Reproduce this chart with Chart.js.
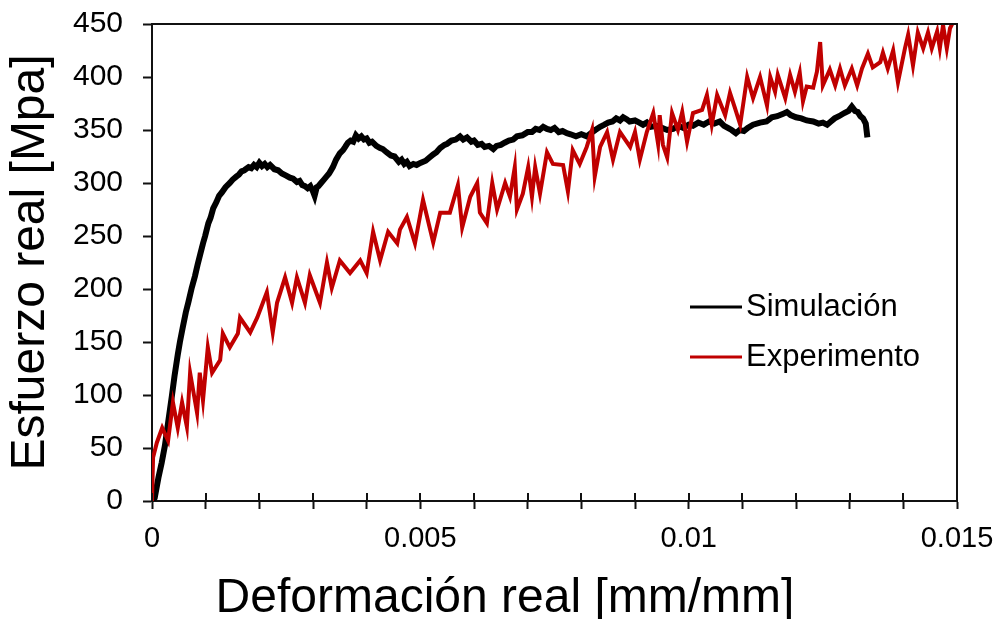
<!DOCTYPE html>
<html>
<head>
<meta charset="utf-8">
<script src="https://cdn.jsdelivr.net/npm/chart.js@4/dist/chart.umd.min.js"></script>
<style>
  html, body { margin: 0; padding: 0; background: #fff; }
  #wrap { width: 1002px; height: 619px; }
</style>
</head>
<body>
<div id="wrap"><canvas id="chart" width="1002" height="619"></canvas></div>
<script>
// Series labels
const seriesNames = ['Simulación', 'Experimento'];

// Simulación (black)
const simX = [0, 0.00005, 0.00012, 0.00018, 0.00024, 0.0003, 0.00037, 0.00042, 0.00048, 0.00052,
  0.00057, 0.00063, 0.00068, 0.00074, 0.0008, 0.00085, 0.0009, 0.00095, 0.00099, 0.00105,
  0.00109, 0.00114, 0.0012, 0.00125, 0.0013, 0.00137, 0.00145, 0.0015, 0.00157, 0.00162,
  0.00167, 0.00172, 0.0018, 0.00185, 0.0019, 0.00195, 0.002, 0.00205, 0.0021, 0.00215,
  0.0022, 0.00228, 0.00235, 0.00242, 0.0025, 0.00257, 0.00263, 0.0027, 0.00275, 0.0028,
  0.00285, 0.0029, 0.00295, 0.003, 0.00303, 0.00307, 0.0031, 0.00315, 0.0032, 0.00325,
  0.0033, 0.00337, 0.00343, 0.0035, 0.00356, 0.0036, 0.00365, 0.0037, 0.00375, 0.0038,
  0.00385, 0.0039, 0.00395, 0.004, 0.00405, 0.0041, 0.00418, 0.00425, 0.0043, 0.00437,
  0.00445, 0.00452, 0.0046, 0.00465, 0.0047, 0.00475, 0.0048, 0.00487, 0.00493, 0.005,
  0.0051, 0.00517, 0.00524, 0.0053, 0.00537, 0.00545, 0.0055, 0.00558, 0.00566, 0.00574,
  0.0058, 0.00587, 0.00595, 0.006, 0.00607, 0.00614, 0.0062, 0.00628, 0.00636, 0.00642,
  0.0065, 0.00657, 0.00665, 0.00673, 0.0068, 0.0069, 0.007, 0.00708, 0.00715, 0.00722,
  0.00729, 0.00736, 0.00743, 0.0075, 0.00758, 0.00765, 0.00773, 0.0078, 0.0079, 0.008,
  0.0081, 0.00818, 0.00826, 0.00835, 0.00843, 0.0085, 0.00858, 0.00865, 0.00872, 0.00878,
  0.00885, 0.0089, 0.009, 0.00908, 0.00915, 0.00922, 0.0093, 0.0094, 0.0095, 0.0096,
  0.00971, 0.0098, 0.0099, 0.01, 0.01008, 0.01018, 0.01028, 0.01038, 0.01048, 0.01058,
  0.01066, 0.01073, 0.0108, 0.01088, 0.01095, 0.01103, 0.0111, 0.0112, 0.01133, 0.01145,
  0.01155, 0.01165, 0.01175, 0.01183, 0.0119, 0.012, 0.0121, 0.0122, 0.01232, 0.01242,
  0.0125, 0.01258, 0.01265, 0.01272, 0.0128, 0.0129, 0.01298, 0.01304, 0.0131, 0.01315,
  0.0132, 0.01325, 0.0133, 0.01333];
const simY = [0, 3, 22, 36, 52, 74, 99, 118, 138, 150,
  163, 178, 188, 201, 212, 223, 233, 243, 250, 262,
  267, 276, 282, 288, 291, 296, 300, 303, 306, 308,
  311, 312, 315, 314, 317, 315, 319, 316, 318, 315,
  317, 313, 312, 309, 307, 305, 304, 301, 302, 298,
  297, 295, 297, 292, 288, 296, 297, 300, 303, 306,
  309, 315, 322, 328, 331, 334, 338, 340, 339, 345,
  342, 344, 341, 342, 338, 339, 335, 333, 332, 329,
  326, 325, 320, 322, 318, 320, 316, 318, 317, 319,
  321, 324, 327, 329, 333, 336, 337, 340, 341, 344,
  341, 343, 339, 340, 336, 337, 334, 335, 332, 335,
  336, 338, 340, 341, 344, 345, 348, 348, 351, 350,
  353, 351, 350, 352, 348, 349, 347, 346, 344, 346,
  344, 347, 350, 353, 355, 357, 358, 361, 359, 362,
  360, 358, 359, 357, 355, 357, 353, 354, 352, 350,
  351, 354, 352, 355, 354, 357, 355, 358, 356, 358,
  354, 352, 350, 347, 350, 349, 352, 355, 357, 358,
  362, 363, 365, 367, 364, 362, 361, 359, 358, 356,
  357, 355, 358, 361, 363, 366, 368, 372, 368, 367,
  363, 361, 356, 343];

// Experimento (red)
const expX = [0, 0.00002, 0.00009, 0.00019, 0.0003, 0.00039, 0.00048, 0.00056, 0.00065, 0.00071,
  0.00084, 0.00089, 0.00095, 0.00104, 0.00112, 0.00127, 0.00132, 0.00145, 0.0016, 0.00164,
  0.00183, 0.00196, 0.00214, 0.00225, 0.00233, 0.00248, 0.00261, 0.0027, 0.00285, 0.00294,
  0.00313, 0.00326, 0.00335, 0.0035, 0.00369, 0.00388, 0.004, 0.00412, 0.00425, 0.0044,
  0.00457, 0.00462, 0.00475, 0.0049, 0.00505, 0.00524, 0.00537, 0.00555, 0.0057, 0.00578,
  0.00593, 0.00606, 0.00611, 0.00624, 0.00634, 0.00643, 0.00658, 0.00667, 0.00676, 0.0068,
  0.00691, 0.00701, 0.00708, 0.00714, 0.00723, 0.00736, 0.00747, 0.00766, 0.00775, 0.00784,
  0.00797, 0.0081, 0.0082, 0.00825, 0.00835, 0.00848, 0.00859, 0.00872, 0.00891, 0.009,
  0.00909, 0.00922, 0.00934, 0.00943, 0.00946, 0.00952, 0.0096, 0.00969, 0.0098, 0.00988,
  0.00997, 0.01008, 0.01025, 0.01034, 0.01043, 0.01053, 0.01068, 0.01077, 0.01086, 0.01096,
  0.01109, 0.0112, 0.01133, 0.01146, 0.01152, 0.01161, 0.01166, 0.0118, 0.01189, 0.01198,
  0.01207, 0.01213, 0.0122, 0.01232, 0.01239, 0.01245, 0.0125, 0.01263, 0.01273, 0.01282,
  0.01291, 0.01304, 0.01314, 0.01323, 0.01334, 0.01343, 0.01357, 0.01362, 0.01371, 0.01381,
  0.0139, 0.01403, 0.01409, 0.01418, 0.01427, 0.01437, 0.01446, 0.01453, 0.01463, 0.01468,
  0.01474, 0.01481, 0.01487, 0.01493];
const expY = [0, 41, 55, 69, 57, 93, 69, 93, 70, 121,
  83, 121, 95, 145, 121, 133, 158, 145, 158, 173,
  159, 173, 197, 159, 187, 211, 187, 211, 187, 213,
  187, 225, 201, 227, 215, 227, 215, 254, 227, 254,
  243, 256, 268, 243, 284, 244, 272, 272, 298, 258,
  287, 300, 272, 262, 300, 275, 300, 287, 315, 275,
  290, 315, 287, 315, 290, 329, 318, 317, 292, 331,
  318, 334, 350, 306, 334, 348, 322, 348, 334, 348,
  322, 348, 366, 337, 364, 336, 324, 366, 350, 367,
  339, 366, 369, 383, 355, 383, 364, 385, 371, 355,
  400, 380, 400, 373, 400, 386, 402, 380, 402, 386,
  404, 377, 391, 390, 405, 433, 392, 407, 392, 408,
  392, 408, 392, 408, 422, 409, 414, 423, 408, 425,
  395, 427, 440, 411, 442, 427, 442, 427, 443, 427,
  449, 427, 446, 452];

// Tick labels
const xTickLabels = ['0', '0.005', '0.01', '0.015'];
const xTickValues = [0, 0.005, 0.01, 0.015];
const yTickLabels = ['0', '50', '100', '150', '200', '250', '300', '350', '400', '450'];

const axisTitles = { x: 'Deformación real [mm/mm]', y: 'Esfuerzo real [Mpa]' };
const colors = ['#000000', '#C00000'];
const FONT = "'Liberation Sans', Arial, sans-serif";
const AXIS = '#111111';

function toPoints(xs, ys) {
    return xs.map((x, i) => ({ x: x, y: ys[i] }));
}

// Marco, ticks internos del eje X, leyenda y titulo X
const extrasPlugin = {
    id: 'extras',
    afterDraw(chart) {
        const ctx = chart.ctx;
        const area = chart.chartArea;
        const xs = chart.scales.x;
        ctx.save();
        ctx.strokeStyle = AXIS;
        ctx.lineWidth = 2;
        // marco superior y derecho
        ctx.beginPath();
        ctx.moveTo(area.left, area.top);
        ctx.lineTo(area.right, area.top);
        ctx.lineTo(area.right, area.bottom);
        ctx.stroke();
        // ticks hacia dentro en el eje X
        ctx.beginPath();
        xs.ticks.forEach(t => {
            const px = Math.round(xs.getPixelForValue(t.value));
            ctx.moveTo(px, area.bottom);
            ctx.lineTo(px, area.bottom - 8);
        });
        ctx.stroke();

        // leyenda
        const legendRows = [307, 357];
        ctx.font = '31px ' + FONT;
        ctx.textBaseline = 'middle';
        ctx.textAlign = 'left';
        chart.data.datasets.forEach((ds, i) => {
            const y = legendRows[i];
            ctx.strokeStyle = ds.borderColor;
            ctx.lineWidth = 3;
            ctx.beginPath();
            ctx.moveTo(690, y);
            ctx.lineTo(742, y);
            ctx.stroke();
            ctx.fillStyle = '#000';
            ctx.fillText(ds.label, 746, y);
        });

        // titulo eje X
        ctx.font = '48px ' + FONT;
        ctx.textAlign = 'center';
        ctx.textBaseline = 'alphabetic';
        ctx.fillStyle = '#000';
        ctx.fillText(axisTitles.x, 505, 612);
        ctx.restore();
    }
};

const config = {
    type: 'line',
    data: {
        datasets: [
            {
                label: seriesNames[0],
                data: toPoints(simX, simY),
                borderColor: colors[0],
                backgroundColor: colors[0],
                borderWidth: 6,
                pointRadius: 0,
                tension: 0,
                order: 2
            },
            {
                label: seriesNames[1],
                data: toPoints(expX, expY),
                borderColor: colors[1],
                backgroundColor: colors[1],
                borderWidth: 4,
                pointRadius: 0,
                tension: 0,
                order: 1
            }
        ]
    },
    options: {
        responsive: false,
        animation: false,
        layout: { padding: { top: 24, right: 45, left: 0, bottom: 0 } },
        plugins: {
            legend: { display: false },
            tooltip: { enabled: false }
        },
        scales: {
            x: {
                type: 'linear',
                min: 0,
                max: 0.015,
                afterFit(scale) {
                    scale.height = 118;
                    scale.paddingLeft = 0;
                    scale.paddingRight = 0;
                },
                afterBuildTicks(scale) {
                    const ticks = [];
                    for (let i = 0; i <= 15; i++) ticks.push({ value: i / 1000 });
                    scale.ticks = ticks;
                },
                ticks: {
                    autoSkip: false,
                    maxRotation: 0,
                    padding: 13,
                    color: '#000',
                    font: { family: FONT, size: 29 },
                    callback: function (value) {
                        const idx = xTickValues.findIndex(v => Math.abs(v - value) < 1e-9);
                        return idx >= 0 ? xTickLabels[idx] : '';
                    }
                },
                grid: {
                    drawOnChartArea: false,
                    drawTicks: true,
                    tickLength: 8,
                    tickColor: AXIS,
                    tickWidth: 2
                },
                border: { display: true, color: AXIS, width: 2 },
                title: { display: false }
            },
            y: {
                type: 'linear',
                min: 0,
                max: 450,
                afterFit(scale) {
                    scale.width = 152;
                    scale.paddingTop = 0;
                    scale.paddingBottom = 0;
                },
                ticks: {
                    stepSize: 50,
                    padding: 20,
                    color: '#000',
                    font: { family: FONT, size: 30 },
                    callback: function (value) {
                        return yTickLabels[Math.round(value / 50)];
                    }
                },
                grid: {
                    drawOnChartArea: false,
                    drawTicks: true,
                    tickLength: 9,
                    tickColor: AXIS,
                    tickWidth: 2
                },
                border: { display: true, color: AXIS, width: 2 },
                title: {
                    display: true,
                    text: axisTitles.y,
                    color: '#000',
                    font: { family: FONT, size: 48 },
                    padding: { top: 2, bottom: 0 }
                }
            }
        }
    },
    plugins: [extrasPlugin]
};

const chart = new Chart(document.getElementById('chart'), config);
</script>
</body>
</html>
